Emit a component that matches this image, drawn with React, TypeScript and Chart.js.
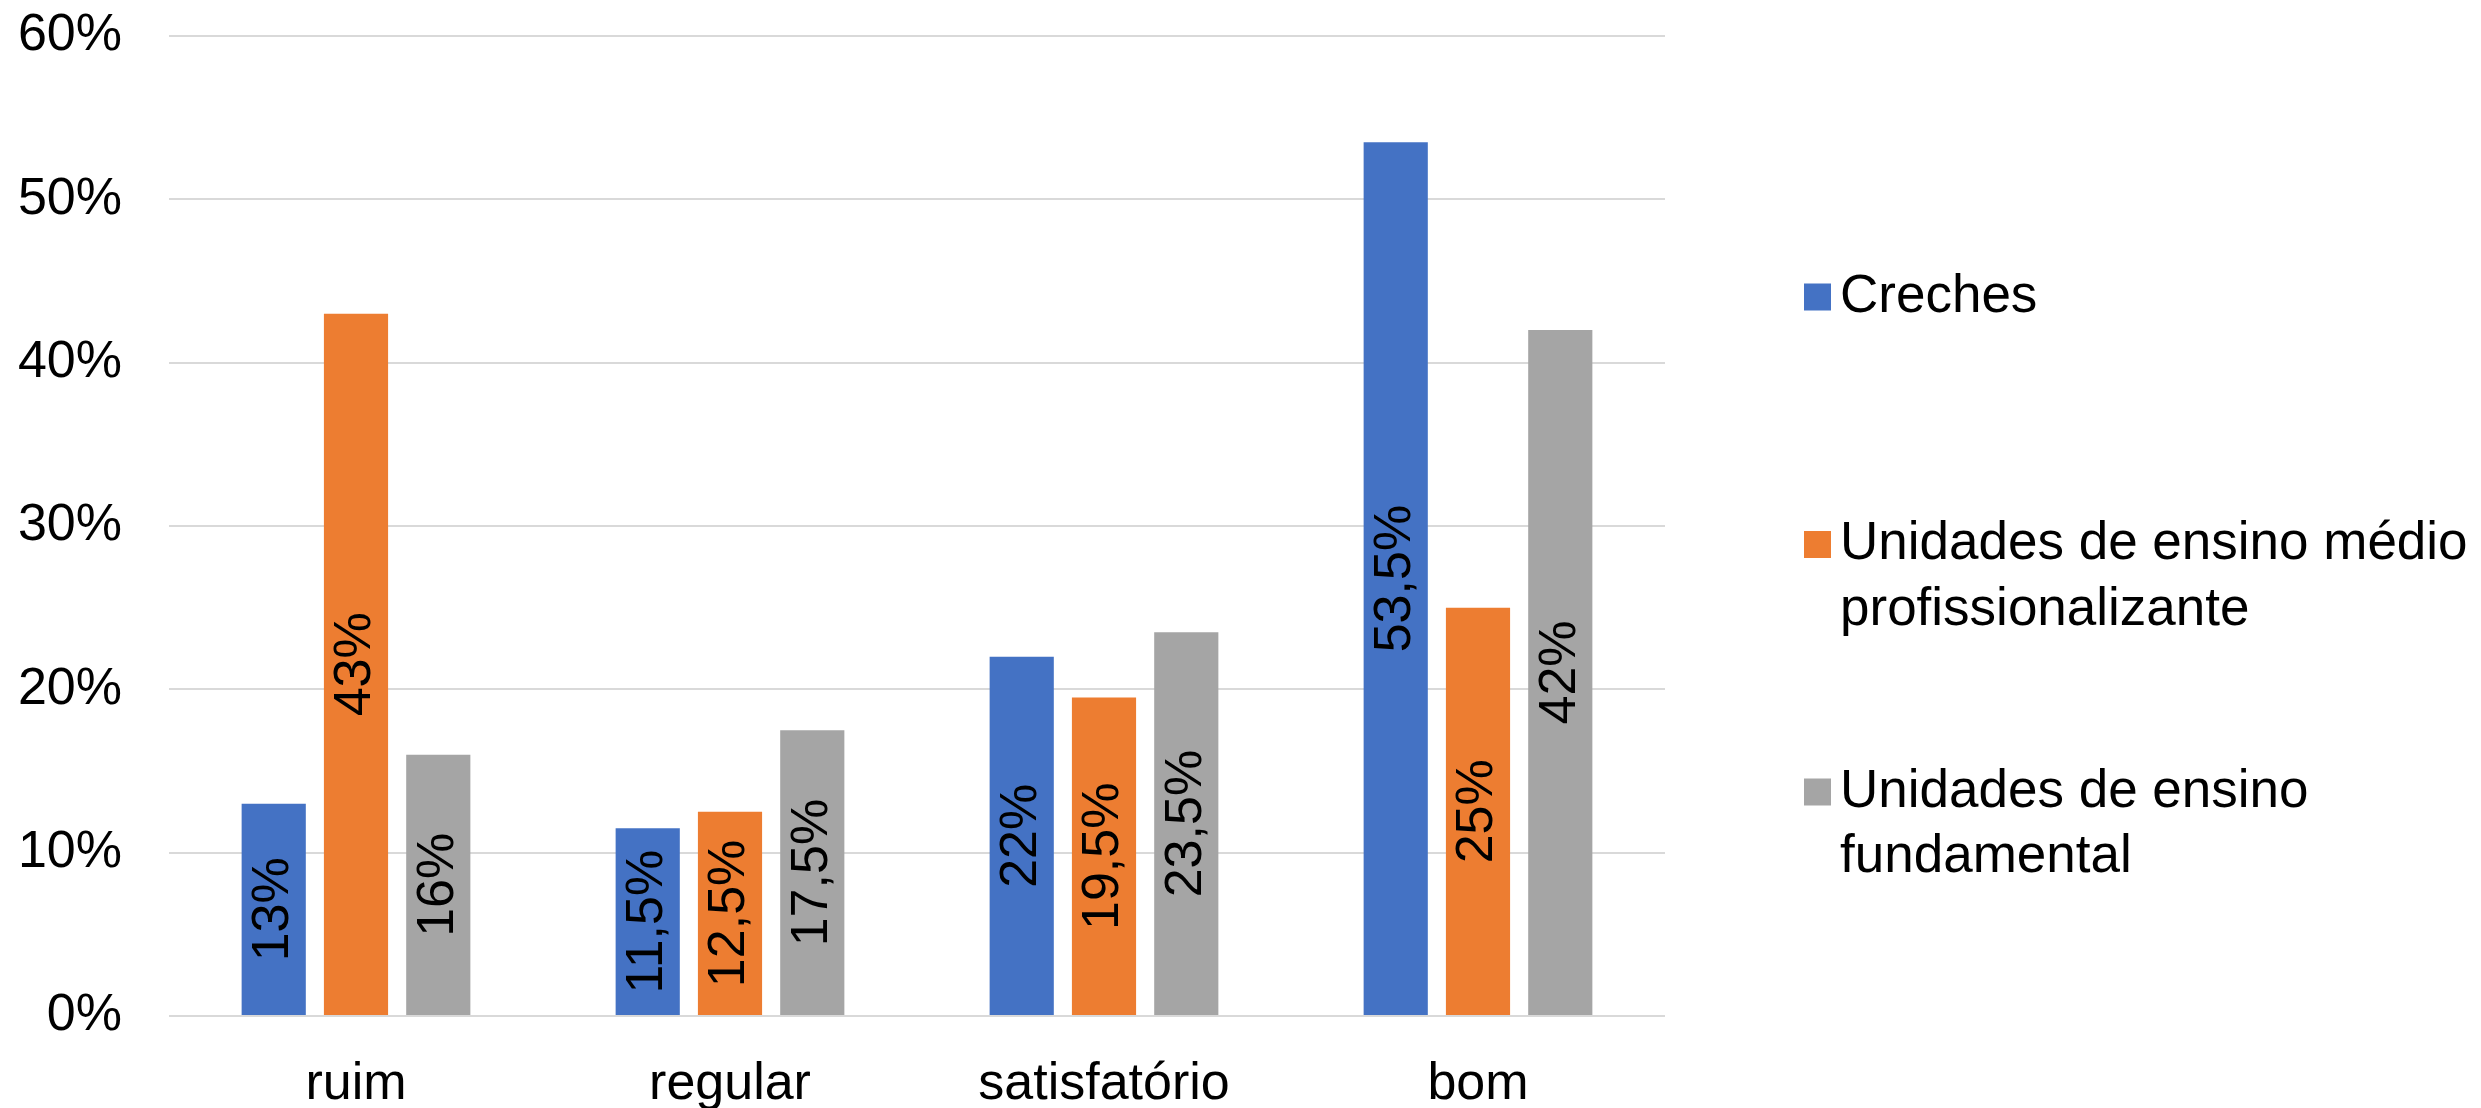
import { useEffect, useRef } from 'react';
import { Chart, registerables } from 'chart.js';

Chart.register(...registerables);

// ---- data ----
const categories = ['ruim', 'regular', 'satisfatório', 'bom'];
const creches = [13, 11.5, 22, 53.5];
const medioProfissionalizante = [43, 12.5, 19.5, 25];
const fundamental = [16, 17.5, 23.5, 42];
const seriesLines = [
  ['Creches'],
  ['Unidades de ensino médio', 'profissionalizante'],
  ['Unidades de ensino', 'fundamental'],
];
const seriesColors = ['#4472C4', '#ED7D31', '#A5A5A5'];
const yMin = 0;
const yMax = 60;
const yStep = 10;

// ---- styling ----
const FONT = '"Liberation Sans", Arial, sans-serif';
const W = 2481;
const H = 1108;

const fmt = (v: number) => String(v).replace('.', ',') + '%';

const barLabelsPlugin = {
  id: 'barLabels',
  afterDatasetsDraw(chart: any) {
    const { ctx } = chart;
    ctx.save();
    ctx.font = `52px ${FONT}`;
    ctx.fillStyle = '#000000';
    ctx.textAlign = 'center';
    ctx.textBaseline = 'middle';
    chart.data.datasets.forEach((ds: any, di: number) => {
      const meta = chart.getDatasetMeta(di);
      meta.data.forEach((el: any, i: number) => {
        const { x, y, base } = el.getProps(['x', 'y', 'base'], true);
        ctx.save();
        ctx.translate(x, (y + base) / 2);
        ctx.rotate(-Math.PI / 2);
        ctx.fillText(fmt(ds.data[i]), 0, 0);
        ctx.restore();
      });
    });
    ctx.restore();
  },
};

const sideLegendPlugin = {
  id: 'sideLegend',
  afterDraw(chart: any) {
    const { ctx } = chart;
    const boxX = 1804;
    const box = 27;
    const textX = 1840;
    const firstY = 297;
    const step = 247.5;
    const lineH = 65.5;
    ctx.save();
    ctx.font = `53px ${FONT}`;
    ctx.textAlign = 'left';
    ctx.textBaseline = 'middle';
    chart.data.datasets.forEach((ds: any, i: number) => {
      const cy = firstY + i * step;
      ctx.fillStyle = ds.backgroundColor;
      ctx.fillRect(boxX, cy - box / 2, box, box);
      ctx.fillStyle = '#000000';
      seriesLines[i].forEach((ln, j) => ctx.fillText(ln, textX, cy + j * lineH));
    });
    ctx.restore();
  },
};

export default function App() {
  const ref = useRef<HTMLCanvasElement | null>(null);

  useEffect(() => {
    document.body.style.margin = '0';
    const canvas = ref.current;
    if (!canvas) return;
    Chart.defaults.font.family = FONT;
    Chart.defaults.color = '#000000';
    const seriesData = [creches, medioProfissionalizante, fundamental];
    const chart = new Chart(canvas, {
      type: 'bar',
      data: {
        labels: categories,
        datasets: seriesData.map((d, i) => ({
          label: seriesLines[i].join(' '),
          data: d,
          backgroundColor: seriesColors[i],
          borderWidth: 0,
          categoryPercentage: 0.66,
          barPercentage: 0.78,
        })),
      },
      options: {
        responsive: false,
        animation: false,
        devicePixelRatio: 1,
        layout: { padding: { left: 18, top: 36, right: W - 1665, bottom: 0 } },
        plugins: {
          legend: { display: false },
          tooltip: { enabled: false },
          title: { display: false },
        },
        scales: {
          x: {
            grid: { display: false },
            border: { display: false },
            ticks: { font: { size: 52 }, padding: 29, color: '#000000' },
            afterFit: (s: any) => {
              s.height = H - 1016;
              s.paddingLeft = 0;
              s.paddingRight = 0;
            },
          },
          y: {
            min: yMin,
            max: yMax,
            ticks: {
              stepSize: yStep,
              font: { size: 52 },
              padding: 47,
              color: '#000000',
              callback: (v: any) => v + '%',
            },
            grid: { color: '#D9D9D9', lineWidth: 2, drawTicks: false },
            border: { display: false },
            afterFit: (s: any) => {
              s.width = 151;
              s.paddingTop = 0;
              s.paddingBottom = 0;
            },
          },
        },
      },
      plugins: [barLabelsPlugin, sideLegendPlugin],
    });
    return () => chart.destroy();
  }, []);

  return (
    <div style={{ position: 'fixed', left: 0, top: 0, width: W, height: H, background: '#ffffff' }}>
      <canvas ref={ref} width={W} height={H} style={{ display: 'block', width: W, height: H }} />
    </div>
  );
}
